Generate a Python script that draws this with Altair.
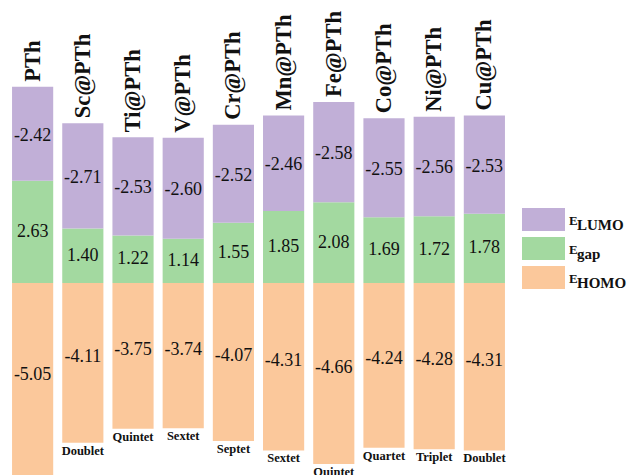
import altair as alt
import pandas as pd

# Frontier orbital energies (eV) of pristine and metal-doped polythiophene
systems = ["PTh", "Sc@PTh", "Ti@PTh", "V@PTh", "Cr@PTh",
           "Mn@PTh", "Fe@PTh", "Co@PTh", "Ni@PTh", "Cu@PTh"]
e_lumo = [-2.42, -2.71, -2.53, -2.60, -2.52, -2.46, -2.58, -2.55, -2.56, -2.53]
e_gap = [2.63, 1.40, 1.22, 1.14, 1.55, 1.85, 2.08, 1.69, 1.72, 1.78]
e_homo = [-5.05, -4.11, -3.75, -3.74, -4.07, -4.31, -4.66, -4.24, -4.28, -4.31]
spin_states = ["", "Doublet", "Quintet", "Sextet", "Septet",
               "Sextet", "Quintet", "Quartet", "Triplet", "Doublet"]

parts = ["LUMO", "gap", "HOMO"]
part_colors = ["#C1AFD7", "#A3D9A0", "#FBC89B"]

SERIF = "Liberation Serif"
INK = "#111111"

# Segments: HOMO hangs below zero, gap sits on zero, LUMO stacks on the gap
rows = []
for name, lumo, gap, homo in zip(systems, e_lumo, e_gap, e_homo):
    rows.append(dict(system=name, part="HOMO", lo=0.0, hi=homo, value=homo))
    rows.append(dict(system=name, part="gap", lo=0.0, hi=gap, value=gap))
    rows.append(dict(system=name, part="LUMO", lo=gap, hi=gap - lumo, value=lumo))
seg = pd.DataFrame(rows)
seg["mid"] = (seg["lo"] + seg["hi"]) / 2
seg["text"] = seg["value"].map(lambda v: f"{v:.2f}")

tops = pd.DataFrame({
    "system": systems,
    "top": [-h for h in e_homo],
    "bottom": e_homo,
    "spin": spin_states,
})

x_enc = alt.X(
    "system:N", sort=systems, axis=None,
    scale=alt.Scale(range=[0, 517], paddingInner=0.18, paddingOuter=0.24),
)
y_scale = alt.Scale(domain=[-4.942, 7.284], nice=False, zero=False)

bars = alt.Chart(seg).mark_bar(clip=True).encode(
    x=x_enc,
    y=alt.Y("lo:Q", scale=y_scale, axis=None),
    y2="hi:Q",
    color=alt.Color("part:N", scale=alt.Scale(domain=parts, range=part_colors),
                    legend=None),
)


def value_labels(part, dy):
    return alt.Chart(seg).transform_filter(
        alt.datum.part == part
    ).mark_text(font=SERIF, fontSize=18, color=INK, dy=dy, clip=True).encode(
        x=x_enc,
        y=alt.Y("mid:Q", scale=y_scale, axis=None),
        text="text:N",
    )


names = alt.Chart(tops).mark_text(
    font=SERIF, fontSize=22.5, fontWeight="bold", color=INK,
    angle=270, align="left", baseline="middle", dx=5,
).encode(
    x=x_enc,
    y=alt.Y("top:Q", scale=y_scale, axis=None),
    text="system:N",
)

spins = alt.Chart(tops).mark_text(
    font=SERIF, fontSize=12.5, fontWeight="bold", color=INK,
    baseline="middle", dy=8,
).encode(
    x=x_enc,
    y=alt.Y("bottom:Q", scale=y_scale, axis=None),
    text="spin:N",
)

# Hand-built legend with subscripted labels
one = pd.DataFrame({"k": [0]})
legend_layers = []
for i, (part, color) in enumerate(zip(parts, part_colors)):
    top = 208 + 29 * i
    legend_layers.append(
        alt.Chart(one).mark_rect(color=color).encode(
            x=alt.value(522), x2=alt.value(565),
            y=alt.value(top), y2=alt.value(top + 23),
        )
    )
    legend_layers.append(
        alt.Chart(one).mark_text(
            text="E", font=SERIF, fontSize=13, fontWeight="bold", color=INK,
            align="left", baseline="alphabetic",
        ).encode(x=alt.value(569), y=alt.value(top + 17))
    )
    legend_layers.append(
        alt.Chart(one).mark_text(
            text=part, font=SERIF, fontSize=15, fontWeight="bold", color=INK,
            align="left", baseline="alphabetic",
        ).encode(x=alt.value(577), y=alt.value(top + 22))
    )

chart = alt.layer(
    bars,
    value_labels("LUMO", 2),
    value_labels("gap", 0),
    value_labels("HOMO", -6),
    names,
    spins,
    *legend_layers,
).properties(
    width=630,
    height=475,
    padding=0,
    autosize=alt.AutoSizeParams(type="none"),
    background="white",
).configure_view(stroke=None)

chart.save("out.html", embed_options={"renderer": "svg", "actions": False})
